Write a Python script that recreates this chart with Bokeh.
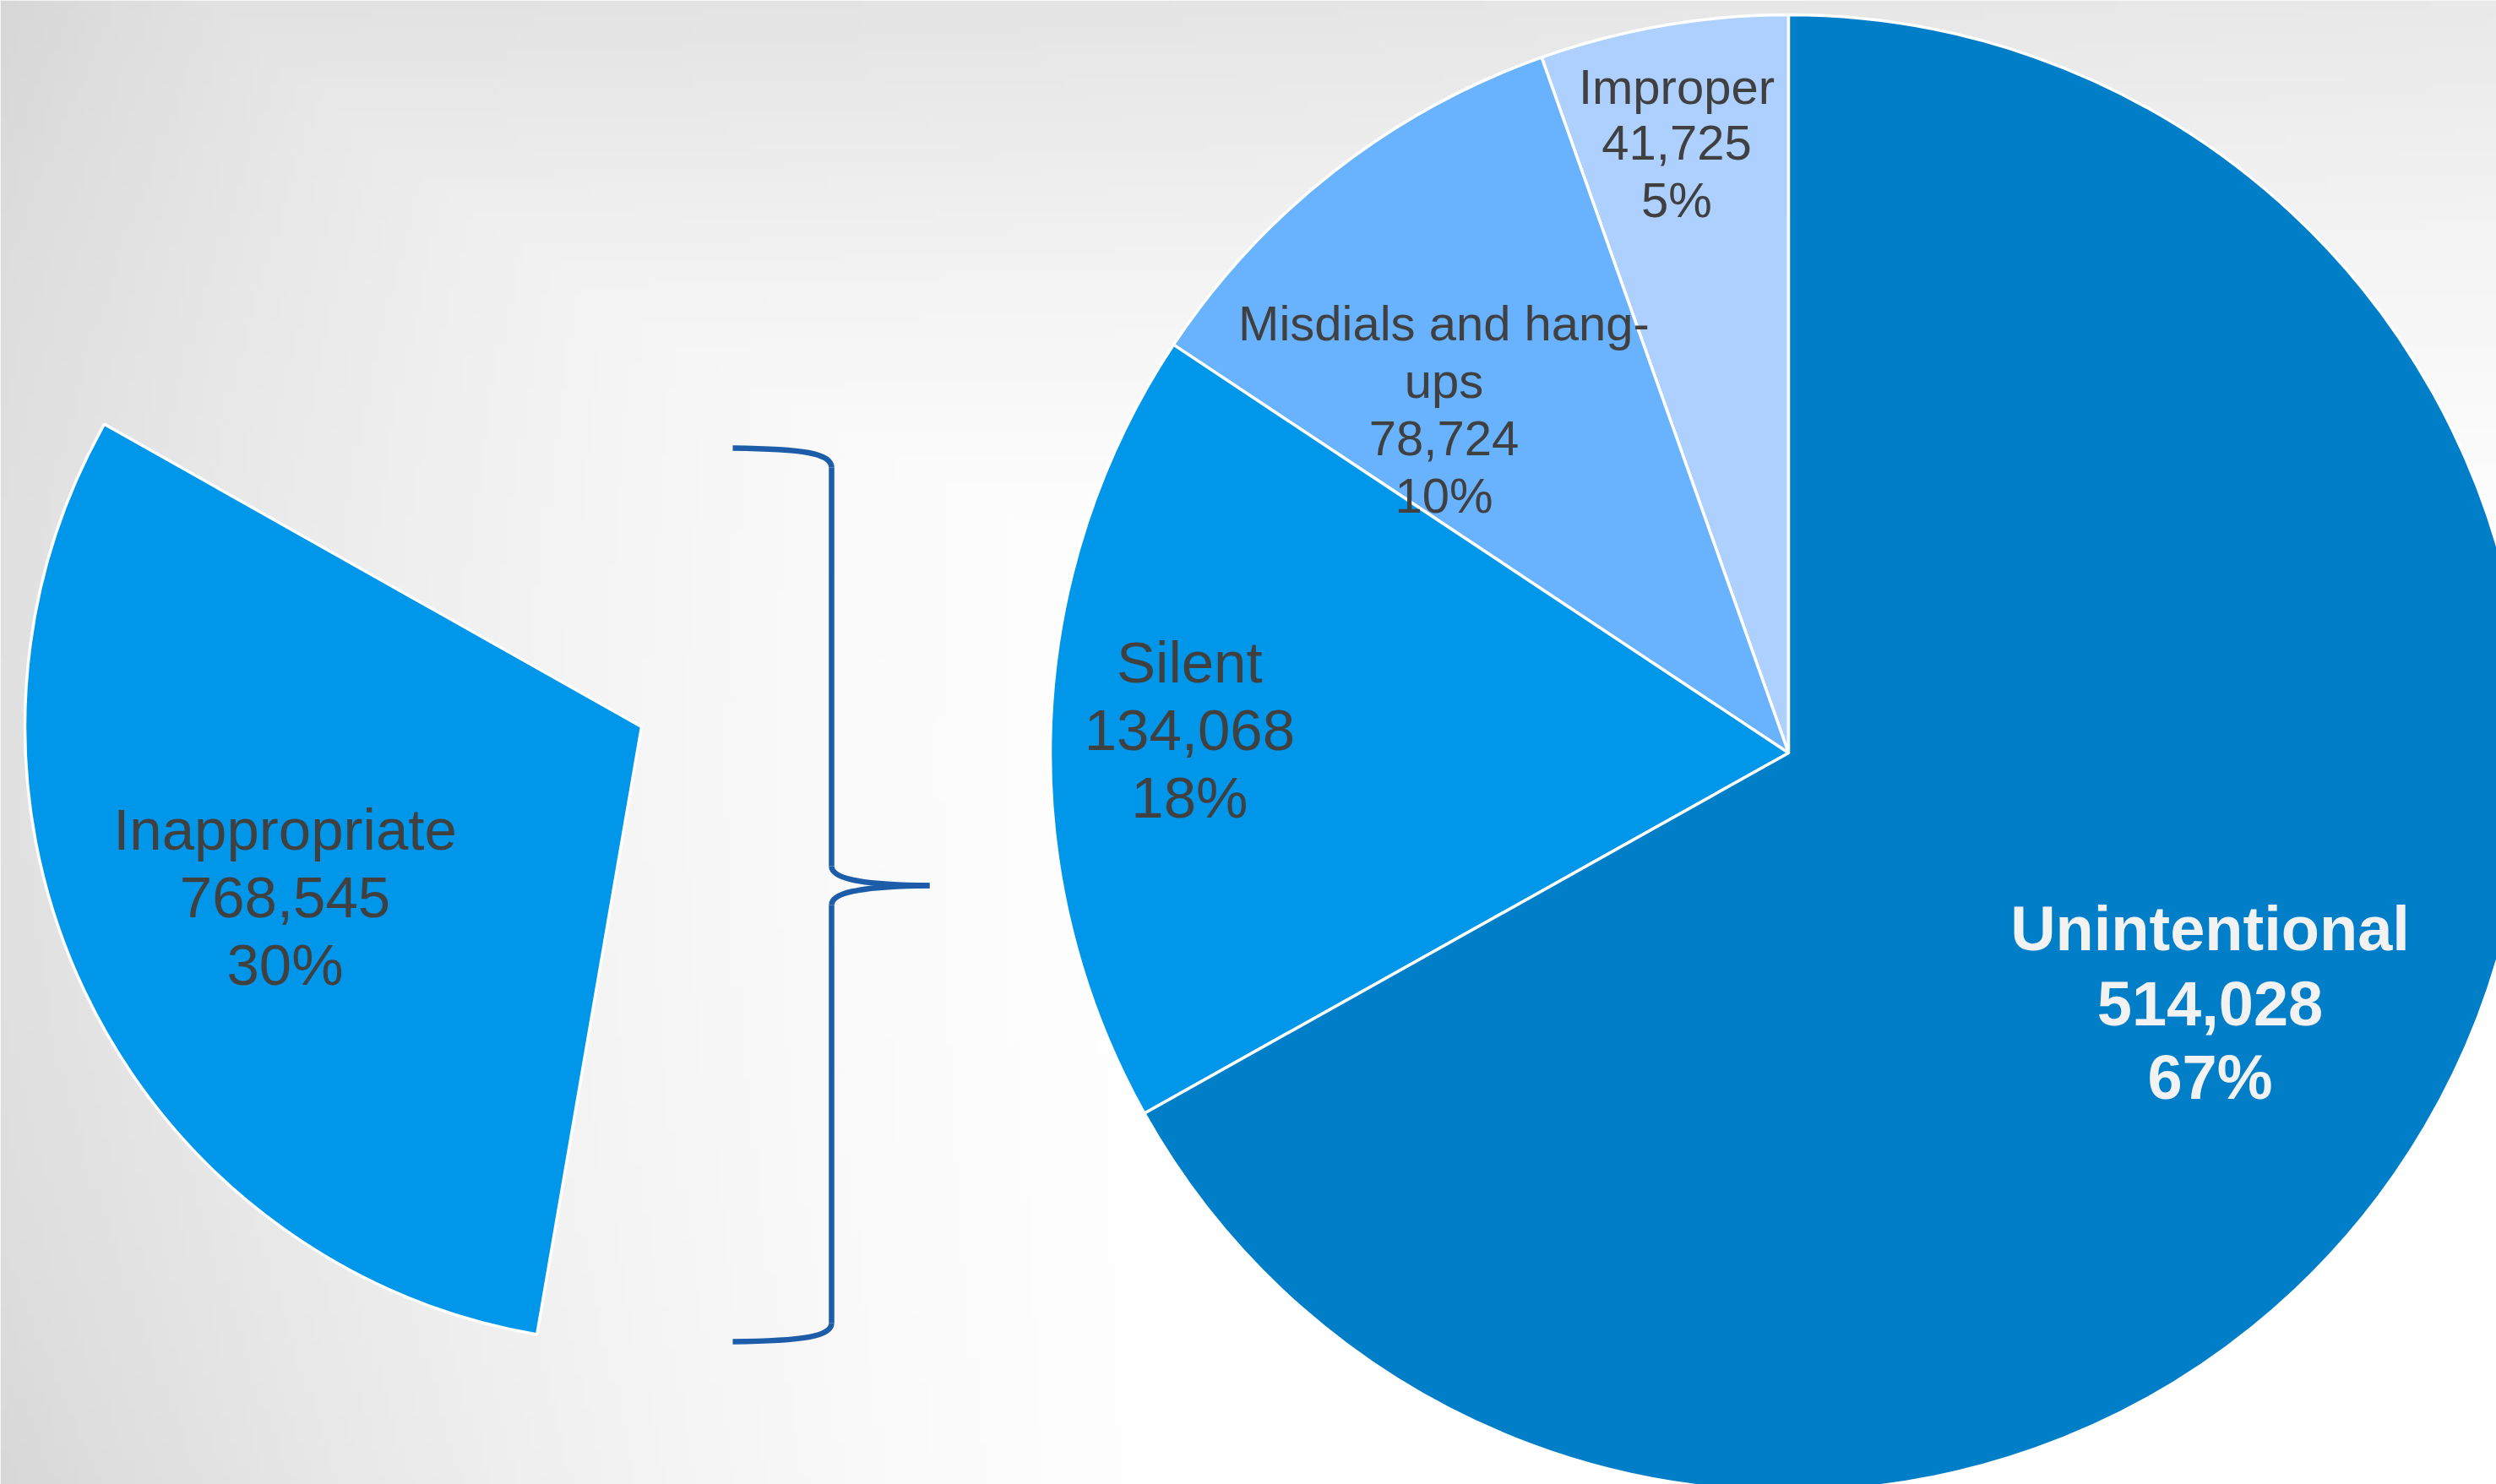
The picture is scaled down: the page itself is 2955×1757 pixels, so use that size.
import math
import numpy as np
from bokeh.plotting import figure
from bokeh.models import Range1d
from bokeh.core.properties import value
from bokeh.embed import file_html
from bokeh.resources import INLINE

# ---------------- data ----------------
sub_categories = ["Improper", "Misdials and hang-ups", "Silent", "Unintentional"]
sub_values = [41725, 78724, 134068, 514028]
sub_pct_labels = ["5%", "10%", "18%", "67%"]

main_category = "Inappropriate"
main_value = 768545
main_pct_label = "30%"
main_other_value = 1755000  # remainder of the first pie (not drawn, estimated)

# ---------------- styles / layout ----------------
SCR_W, SCR_H = 2955, 1757
FIG_W, FIG_H = 2955, 1757

def sy(y):  # screen y (from top) -> data y (from bottom)
    return SCR_H - y

sub_colors = ["#ADD0FE", "#69B2FE", "#0097EA", "#007EC8"]
main_color = "#0097EA"
text_color = "#404040"
brace_color = "#1C5CA8"
FONT = "Liberation Sans"

R_CX, R_CY, R_R = 2117, sy(891), 874
R_START = 90.0
L_CX, L_CY, L_R = 759, sy(860), 730
L_START = 150.6

sub_label_angle = [100.4, 135.1, 177.8, 329.3]
sub_label_rfrac = [0.84, 0.659, 0.812, 0.664]
sub_label_size = [58, 58, 69, 74]
sub_label_spacing = [67, 68, 80, 88]
sub_label_color = [text_color, text_color, text_color, "#F2F2F2"]
sub_label_bold = [False, False, False, True]
wraps = {"Misdials and hang-ups": ["Misdials and hang-", "ups"]}

main_label_angle = 205.6
main_label_rfrac = 0.641

p = figure(width=FIG_W, height=FIG_H, output_backend="svg", toolbar_location=None,
           x_range=Range1d(0, FIG_W), y_range=Range1d(SCR_H - FIG_H, SCR_H),
           x_axis_location=None, y_axis_location=None, min_border=0,
           background_fill_color="white", border_fill_color="white")
p.grid.visible = False
p.outline_line_color = None

# ---------------- background gradient ----------------
ny, nx = 176, 296
xs = (np.arange(nx) + 0.5) * SCR_W / nx
ys_screen = SCR_H - (np.arange(ny) + 0.5) * SCR_H / ny
SX, SY = np.meshgrid(xs, ys_screen)
L_strength = 30 + 10 * ((SY - 900) / 900) ** 2
d_left = L_strength * np.clip(1 - SX / 1500, 0, 1) ** 1.7
d_top = (30 - 8 * SX / SCR_W) * np.clip(1 - SY / 700, 0, 1) ** 1.3
g = np.clip(255 - np.maximum(d_left, d_top), 0, 255).astype(np.uint8)
img = np.empty((ny, nx), dtype=np.uint32)
view = img.view(dtype=np.uint8).reshape((ny, nx, 4))
view[..., 0] = g
view[..., 1] = g
view[..., 2] = g
view[..., 3] = 255
p.image_rgba(image=[img], x=0, y=0, dw=SCR_W, dh=SCR_H)

# ---------------- right pie (breakdown) ----------------
total_sub = sum(sub_values)
starts, ends = [], []
acc = 0.0
for v in sub_values:
    a0 = math.radians(R_START) + 2 * math.pi * acc / total_sub
    acc += v
    a1 = math.radians(R_START) + 2 * math.pi * acc / total_sub
    starts.append(a0)
    ends.append(a1)
p.wedge(x=R_CX, y=R_CY, radius=R_R, start_angle=starts, end_angle=ends,
        direction="anticlock", fill_color=sub_colors, line_color="white", line_width=3.5)

# ---------------- left pie (only the exploded slice shown) ----------------
total_main = main_value + main_other_value
l0 = math.radians(L_START)
l1 = l0 + 2 * math.pi * main_value / total_main
p.wedge(x=L_CX, y=L_CY, radius=L_R, start_angle=l0, end_angle=l1,
        direction="anticlock", fill_color=main_color, line_color="white", line_width=3.5)

# ---------------- labels ----------------
def add_label(cx, cy, lines, size, spacing, color, bold):
    n = len(lines)
    ys = [cy - (i - (n - 1) / 2) * spacing for i in range(n)]
    p.text(x=[cx] * n, y=ys, text=lines, text_align="center", text_baseline="middle",
           text_font=value(FONT), text_font_size=f"{size}px", text_color=color,
           text_font_style="bold" if bold else "normal")

for i, name in enumerate(sub_categories):
    ang = math.radians(sub_label_angle[i])
    r = sub_label_rfrac[i] * R_R
    cx = R_CX + r * math.cos(ang)
    cy = R_CY + r * math.sin(ang)
    lines = wraps.get(name, [name]) + [f"{sub_values[i]:,}", sub_pct_labels[i]]
    add_label(cx, cy, lines, sub_label_size[i], sub_label_spacing[i],
              sub_label_color[i], sub_label_bold[i])

ang = math.radians(main_label_angle)
r = main_label_rfrac * L_R
add_label(L_CX + r * math.cos(ang), L_CY + r * math.sin(ang),
          [main_category, f"{main_value:,}", main_pct_label], 69, 80, text_color, False)

# ---------------- brace connector ----------------
bx0, bx1, btip = 867, 984, 1100
b_top, b_mid, b_bot = 530, 1048, 1588
p.bezier(x0=[bx0, bx1, btip, bx1], y0=[sy(b_top), sy(b_mid - 23), sy(b_mid), sy(b_bot - 22)],
         x1=[bx1, btip, bx1, bx0], y1=[sy(b_top + 23), sy(b_mid), sy(b_mid + 23), sy(b_bot)],
         cx0=[950, bx1, 1010, bx1], cy0=[sy(b_top + 1), sy(b_mid - 10), sy(b_mid + 1), sy(b_bot - 6)],
         cx1=[bx1, 1010, bx1, 950], cy1=[sy(b_top + 6), sy(b_mid - 1), sy(b_mid + 10), sy(b_bot - 1)],
         line_color=brace_color, line_width=6.5)
p.segment(x0=[bx1, bx1], y0=[sy(b_top + 23), sy(b_mid + 23)],
          x1=[bx1, bx1], y1=[sy(b_mid - 23), sy(b_bot - 22)],
          line_color=brace_color, line_width=6.5)

open("out.html", "w").write(file_html(p, INLINE))
